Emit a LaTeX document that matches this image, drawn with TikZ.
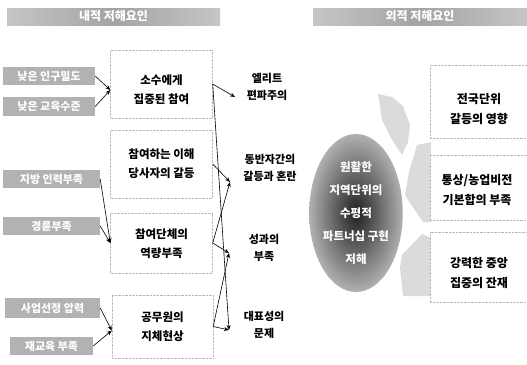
\documentclass[tikz,border=0pt]{standalone}
\usepackage{fontspec}
\setmainfont{Noto Sans CJK KR}
\usetikzlibrary{arrows.meta,shapes.geometric,calc}
\begin{document}
\begin{tikzpicture}[x=1pt,y=-1pt,
  hdr/.style={left color=gray!45,right color=gray!45,middle color=gray!72,text=white,
    font=\bfseries\fontsize{12}{14}\selectfont,minimum height=17pt,inner sep=0pt},
  lbox/.style={fill=gray!60,text=white,font=\bfseries\fontsize{11}{13}\selectfont,
    minimum height=18pt,inner sep=0pt},
  mbox/.style={draw=gray!55,densely dotted,fill=white,minimum width=102pt,inner sep=0pt},
  mtxt/.style={align=center,font=\bfseries\fontsize{11.5}{19}\selectfont,inner sep=0pt},
  rtxt/.style={align=center,font=\bfseries\fontsize{12}{20}\selectfont,inner sep=0pt},
  res/.style={align=center,font=\bfseries\fontsize{11}{17}\selectfont,inner sep=0pt},
  con/.style={-{Stealth[length=5pt,width=4pt]},line width=0.6pt,black},
  gshape/.style={fill=gray!28,draw=none}
]
\useasboundingbox (0,0) rectangle (527,364);

% headers
\node[hdr,minimum width=213pt] (h1) at (113.5,16.5) {내적 저해요인};
\node[hdr,minimum width=214pt] (h2) at (420,16.5) {외적 저해요인};

% left small boxes
\node[lbox,minimum width=92pt] (l1) at (49,76) {낮은 인구밀도};
\node[lbox,minimum width=92pt,minimum height=19pt] (l2) at (49,106.5) {낮은 교육수준};
\node[lbox,minimum width=97pt] (l3) at (51.5,179) {지방 인력부족};
\node[lbox,minimum width=97pt] (l4) at (51.5,226) {경륜부족};
\node[lbox,minimum width=95pt,minimum height=20pt] (l5) at (52.5,308) {사업선정 압력};
\node[lbox,minimum width=83pt] (l6) at (51.5,346) {재교육 부족};

% middle boxes
\node[mbox,minimum height=68pt] (b1) at (161.5,84) {};
\node[mtxt] (b1t) at (161.5,90) {소수에게\\집중된 참여};
\node[mbox,minimum height=68pt] (b2) at (161.5,164) {};
\node[mtxt] (b2t) at (161.5,164) {참여하는 이해\\당사자의 갈등};
\node[mbox,minimum height=60pt] (b3) at (161.5,243) {};
\node[mtxt] (b3t) at (161.5,244) {참여단체의\\역량부족};
\node[mbox,minimum height=63pt,minimum width=101pt] (b4) at (162.5,326.5) {};
\node[mtxt] (b4t) at (162.5,327) {공무원의\\지체현상};

% result labels
\node[res] (e1) at (267,87) {엘리트\\편파주의};
\node[res] (e2) at (270,168) {동반자간의\\갈등과 혼란};
\node[res] (e3) at (264,248) {성과의\\부족};
\node[res] (e4) at (264,325) {대표성의\\문제};

\coordinate (t1) at (235,97);
\coordinate (t2) at (230,182);
\coordinate (t3) at (229,253);
\coordinate (t4) at (229,330);

% left connectors
\draw[con] (l1.east) -- ([yshift=-6pt]b1.west);
\draw[con] (l2.east) -- ([yshift=-6pt]b1.west);
\draw[con] (l3.east) -- (b3.west);
\draw[con] (l4.east) -- (b3.west);
\draw[con] (l5.east) -- ([yshift=-4pt]b4.west);
\draw[con] (l6.east) -- ([yshift=-4pt]b4.west);

% right connectors
\draw[con] (b1.east) -- (t1);
\draw[con] (b1.east) -- (t4);
\draw[con] (b2.east) -- (t2);
\draw[con] (b3.east) -- (t2);
\draw[con] (b3.east) -- (t3);
\draw[con] (b4.east) -- (t3);
\draw[con] (b4.east) -- (t4);

% gray arrow shapes toward ellipse
\fill[gshape] (378,94) -- (392,97) -- (403,106) -- (410,125) -- (408,142) -- (402,155) -- (391,138) -- (382,120) -- cycle;
\fill[gshape] (417,145) -- (431,142) -- (431,222) -- (423,222) -- (410,203) -- (405,195) -- (409,172) -- cycle;
\fill[gshape] (422,234) -- (431,238) -- (431,296) -- (403,296) -- (400,268) -- (402,255) -- cycle;

% central ellipse
\node[ellipse,minimum width=82pt,minimum height=158pt,inner sep=0pt,
  inner color=gray!25!black,outer color=gray!62,
  text=white,align=center,font=\bfseries\fontsize{11.5}{23}\selectfont] (el) at (356,213)
  {원활한\\지역단위의\\수평적\\파트너십 구현\\저해};

% right boxes
\node[mbox,minimum height=73pt] (r1) at (481,101.5) {};
\node[rtxt] (r1t) at (479,109) {전국단위\\갈등의 영향};
\node[mbox,minimum height=65pt] (r2) at (481,187.5) {};
\node[rtxt] (r2t) at (477,190) {통상/농업비전\\기본합의 부족};
\node[mbox,minimum height=70pt] (r3) at (481,267) {};
\node[rtxt] (r3t) at (479,273) {강력한 중앙\\집중의 잔재};
\end{tikzpicture}
\end{document}
